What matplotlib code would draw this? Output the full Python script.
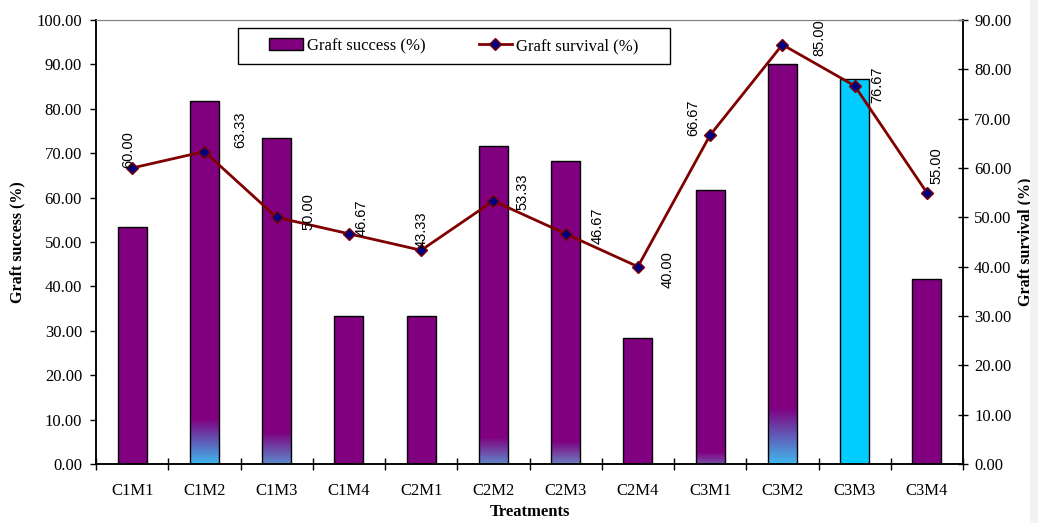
import matplotlib
matplotlib.use('Agg')
import matplotlib.pyplot as plt
import numpy as np
from matplotlib.colors import to_rgba
from matplotlib.patches import Rectangle, Patch

# ---------------- data ----------------
treatments = ['C1M1', 'C1M2', 'C1M3', 'C1M4', 'C2M1', 'C2M2',
              'C2M3', 'C2M4', 'C3M1', 'C3M2', 'C3M3', 'C3M4']
graft_success = [53.33, 81.67, 73.33, 33.33, 33.33, 71.67,
                 68.33, 28.33, 61.67, 90.00, 86.67, 41.67]
graft_survival = [60.00, 63.33, 50.00, 46.67, 43.33, 53.33,
                  46.67, 40.00, 66.67, 85.00, 76.67, 55.00]
left_ticks = [0, 10, 20, 30, 40, 50, 60, 70, 80, 90, 100]
right_ticks = [0, 10, 20, 30, 40, 50, 60, 70, 80, 90]

# ---------------- style ----------------
PURPLE = '#800080'
CYAN = '#00ccff'
bar_colors = [PURPLE] * 10 + [CYAN, PURPLE]
grad_height = [0, 10, 7, 0, 0, 6, 5, 0, 2.7, 12.5, 0, 0]
grad_bottom = [None, '#3fb8ee', '#5a8ccc', None, None, '#6088c8',
               '#6a80c0', None, '#7a50a8', '#40b8ee', None, None]
# label offsets from marker, in pixels (x right, y up)
label_offsets = [(-4, 18), (36, 22), (32, 6), (13, 16), (1, 20), (29, 9),
                 (32, 8), (30, -3), (-17, 17), (37, 7), (23, 1), (10, 27)]

serif = ['Liberation Serif', 'DejaVu Serif']
plt.rcParams['font.family'] = serif

W, H = 1038, 523
fig = plt.figure(figsize=(W / 100, H / 100), dpi=100)
fig.patches.append(Rectangle((1030 / W, 0), 8 / W, 1, transform=fig.transFigure,
                             facecolor='#f2f2f2', edgecolor='none', zorder=0))
ax = fig.add_axes([96 / W, 59 / H, 867 / W, 444 / H])
ax2 = ax.twinx()

x = np.arange(len(treatments))
bw = 0.4
bars = ax.bar(x, graft_success, width=bw, color=bar_colors, edgecolor='none', zorder=2)
for i, b in enumerate(bars):
    g = grad_height[i]
    if g > 0:
        c0 = np.array(to_rgba(grad_bottom[i]))
        c1 = np.array(to_rgba(PURPLE))
        t = np.linspace(0, 1, 100)[:, None]
        img = (c0 * (1 - t) + c1 * t)[:, None, :]
        im = ax.imshow(img, extent=[x[i] - bw / 2, x[i] + bw / 2, 0, g],
                       origin='lower', aspect='auto', zorder=2.5, interpolation='bilinear')
        im.set_clip_path(b)
ax.bar(x, graft_success, width=bw, fill=False, edgecolor='black', linewidth=1.0, zorder=3)

ax.set_xlim(-0.5, len(treatments) - 0.5)
ax.set_ylim(0, 100)
ax.set_yticks(left_ticks)
ax.set_yticklabels([f'{v:.2f}' for v in left_ticks], fontsize=12)
ax.set_xticks(x)
ax.set_xticklabels(treatments, fontsize=12)
ax.tick_params(axis='x', which='major', length=0, pad=14)
ax.set_xticks(np.arange(len(treatments) + 1) - 0.5, minor=True)
ax.tick_params(axis='x', which='minor', direction='inout', length=9, width=1)
ax.tick_params(axis='y', direction='out', length=4.5, width=1, pad=5.5)

ax2.set_ylim(0, 90)
ax2.set_yticks(right_ticks)
ax2.set_yticklabels([f'{v:.2f}' for v in right_ticks], fontsize=12)
ax2.tick_params(axis='y', direction='inout', length=7, width=1, pad=4.5)

for a in (ax, ax2):
    a.spines['top'].set_color('#808080')
    a.spines['left'].set_linewidth(1.1)
    a.spines['bottom'].set_linewidth(1.1)
    a.spines['right'].set_linewidth(1.1)

line, = ax2.plot(x, graft_survival, color='#800000', linewidth=2, marker='D',
                 markersize=6, markerfacecolor='#000080', markeredgecolor='#800000',
                 markeredgewidth=1, zorder=5)

for i, v in enumerate(graft_survival):
    dx, dy = label_offsets[i]
    ax2.annotate(f'{v:.2f}', (x[i], v), xytext=(dx, dy), textcoords='offset pixels',
                 rotation=90, ha='center', va='center', fontsize=10.5,
                 family=['Liberation Sans', 'DejaVu Sans'], zorder=6)

ax.set_ylabel('Graft success (%)', fontsize=11.5, fontweight='bold', labelpad=8)
ax2.set_ylabel('Graft survival (%)', fontsize=11.5, fontweight='bold', labelpad=4)
ax.set_xlabel('Treatments', fontsize=12, fontweight='bold', labelpad=3)

# legend frame drawn explicitly, legend content centred in it
frame = Rectangle((238 / W, 1 - 64 / H), (670 - 238) / W, 36 / H, transform=fig.transFigure,
                  facecolor='white', edgecolor='black', linewidth=1, zorder=4.9, clip_on=False)
ax2.add_artist(frame)
handles = [Patch(facecolor=PURPLE, edgecolor='black'), line]
leg = ax2.legend(handles, ['Graft success (%)', 'Graft survival (%)'], ncol=2,
                 loc='center', bbox_to_anchor=(454 / W, 1 - 46 / H),
                 bbox_transform=fig.transFigure, frameon=False,
                 fontsize=12, handlelength=2.0, handletextpad=0.25, borderaxespad=0,
                 columnspacing=3.2, borderpad=0)
leg.set_zorder(5)

fig.savefig('out.png', dpi=100)
